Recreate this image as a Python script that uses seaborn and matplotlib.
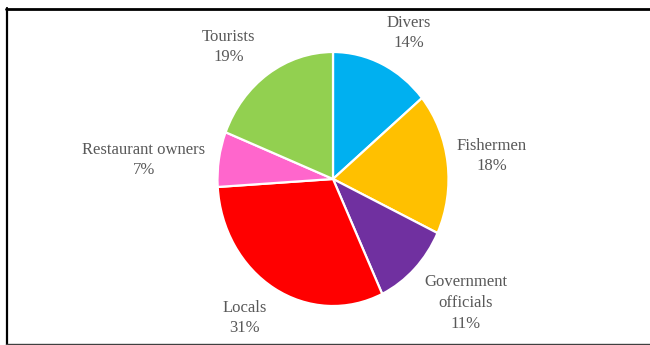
import matplotlib
matplotlib.use("Agg")
import matplotlib.pyplot as plt
from matplotlib.lines import Line2D
import seaborn as sns

# Stakeholder shares (percent), clockwise from 12 o'clock
categories = ["Divers", "Fishermen", "Government\nofficials", "Locals",
              "Restaurant owners", "Tourists"]
shares = [14, 18, 11, 31, 7, 19]
colors = ["#00B0F0", "#FFC000", "#7030A0", "#FF0000", "#FF66CC", "#92D050"]

# Label block centres in pixels (x from left, y from top)
label_px = [(409, 33), (492, 156), (466, 303), (245, 318), (144, 160), (229, 47)]

W, H, DPI = 650, 345, 100

sns.set_theme(style="white")
plt.rcParams["font.family"] = ["Liberation Serif", "DejaVu Serif"]

fig = plt.figure(figsize=(W / DPI, H / DPI), dpi=DPI)
fig.patch.set_facecolor("white")

# Pie axes (slightly taller than wide)
left, right, top, bottom = 217.5, 448.5, 52, 306
ax = fig.add_axes([left / W, 1 - bottom / H, (right - left) / W, (bottom - top) / H])
ax.pie(shares, colors=sns.color_palette(colors), startangle=90, counterclock=False,
       radius=1, wedgeprops=dict(edgecolor="white", linewidth=1.6))
ax.set_aspect("auto")
ax.set_xlim(-1.0, 1.0)
ax.set_ylim(-1.0, 1.0)
ax.axis("off")

for name, val, (px, py) in zip(categories, shares, label_px):
    fig.text(px / W, 1 - py / H, f"{name}\n{val}%", ha="center", va="center",
             fontsize=12, color="#595959", linespacing=1.38)

# Frame lines
fig.add_artist(Line2D([6 / W, 1], [1 - 8.7 / H, 1 - 8.7 / H], color="black",
                      lw=2.0, transform=fig.transFigure))
fig.add_artist(Line2D([7 / W, 7 / W], [1 - 8 / H, 0], color="black",
                      lw=1.6, transform=fig.transFigure))
fig.add_artist(Line2D([6 / W, 1], [0.9 / H, 0.9 / H], color="#404040",
                      lw=1.0, transform=fig.transFigure))

fig.savefig("out.png", dpi=DPI)
